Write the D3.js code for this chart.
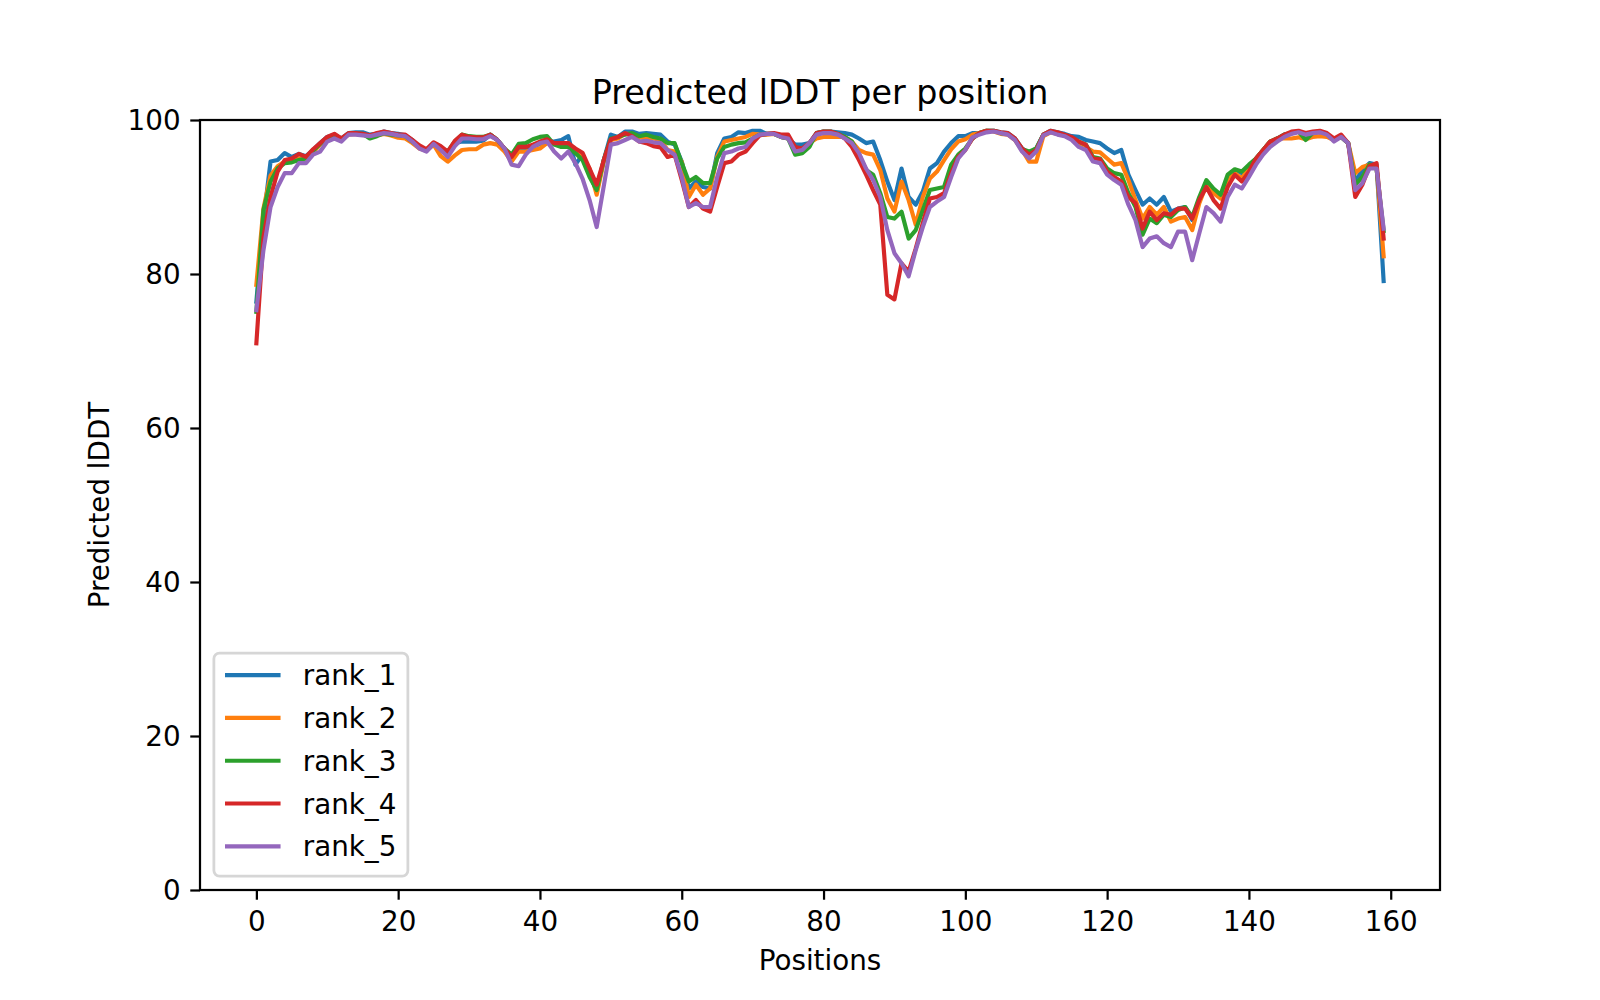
<!DOCTYPE html>
<html>
<head>
<meta charset="utf-8">
<script src="https://cdn.jsdelivr.net/npm/d3@7"></script>
<style>
  html, body { margin: 0; padding: 0; background: #fff; }
  #chart { width: 1600px; height: 1000px; }
  text { font-family: "DejaVu Sans", sans-serif; fill: #000; }
</style>
</head>
<body>
<div id="chart"></div>
<script>
// predicted lDDT per residue for the five ranked models
const rank1 = [76.4,87.0,94.6,94.8,95.7,95.2,95.6,95.3,96.1,97.0,97.8,98.1,97.6,98.3,98.4,98.4,98.1,98.2,98.5,98.3,
  98.2,98.0,97.4,96.5,96.1,97.0,96.5,95.4,97.0,97.2,97.2,97.2,97.3,98.1,97.4,96.3,95.0,96.3,96.3,96.5,
  96.9,97.2,97.2,97.4,97.9,94.2,95.5,93.1,90.7,94.8,98.1,97.8,98.5,98.5,98.2,98.3,98.2,98.1,97.2,96.8,
  94.6,91.1,92.0,91.3,91.1,95.7,97.6,97.8,98.4,98.3,98.6,98.6,98.2,98.2,97.8,97.6,96.8,96.8,97.0,98.3,
  98.5,98.5,98.4,98.3,98.1,97.6,97.0,97.2,94.8,92.0,89.6,93.7,90.0,89.0,90.7,93.7,94.4,95.9,97.0,97.9,
  97.9,98.3,98.3,98.6,98.6,98.4,98.3,97.6,96.3,95.7,96.3,98.1,98.6,98.4,98.2,97.9,97.8,97.4,97.2,97.0,
  96.3,95.7,96.1,92.9,90.9,89.0,89.8,89.0,90.0,88.1,88.5,88.7,87.0,89.6,92.0,90.9,90.0,92.6,93.5,93.1,
  93.9,95.0,96.1,97.2,97.6,98.1,98.3,98.5,98.1,98.3,98.5,98.2,97.4,97.8,97.0,92.0,93.5,94.4,94.2,79.1];
const rank2 = [78.6,88.5,92.8,94.0,94.6,94.8,95.0,95.0,95.8,96.8,97.6,98.0,97.5,98.1,98.2,98.1,97.8,98.0,98.2,98.0,
  97.7,97.6,97.0,96.3,96.0,96.8,95.3,94.6,95.4,96.1,96.2,96.2,96.8,97.0,96.8,95.9,94.6,95.9,95.9,96.1,
  96.3,97.0,97.0,97.0,97.0,95.9,95.2,93.7,90.3,94.6,97.4,97.6,98.2,98.2,97.8,97.6,97.6,97.4,96.1,95.9,
  94.6,90.0,91.6,90.3,91.1,95.2,97.2,97.4,97.6,97.8,98.2,98.1,98.1,98.2,97.8,97.6,96.1,96.1,97.0,97.6,
  97.8,97.8,97.8,97.8,97.2,96.1,95.7,95.5,93.5,89.8,88.1,92.0,89.6,86.4,90.0,92.4,93.3,94.8,96.2,97.2,
  97.5,98.1,98.3,98.6,98.5,98.2,98.1,97.4,96.1,94.6,94.6,97.9,98.4,98.2,98.0,97.6,96.9,96.5,95.9,95.8,
  95.0,94.2,94.4,92.2,89.6,87.2,88.7,87.7,88.7,86.8,87.2,87.4,85.7,89.2,91.6,90.5,89.8,92.4,93.1,92.4,
  93.9,95.0,96.1,97.2,97.6,97.6,97.6,97.75,97.5,97.8,97.9,97.8,97.4,97.8,97.0,93.1,93.9,94.2,93.9,82.3];
const rank3 = [75.1,88.3,92.0,93.7,94.4,94.5,94.8,95.0,96.0,96.9,97.6,98.0,97.4,98.2,98.2,98.2,97.6,97.9,98.3,98.1,
  98.0,97.9,97.2,96.5,96.1,97.0,96.4,95.9,97.2,98.1,97.9,97.8,97.8,98.1,97.4,96.3,95.5,96.9,97.0,97.5,
  97.8,97.9,96.8,96.5,96.5,95.7,94.8,92.6,90.9,94.8,97.6,97.8,98.1,98.3,97.9,98.1,97.8,97.6,97.0,97.0,
  94.4,92.0,92.6,91.8,91.8,95.0,96.5,96.8,97.0,97.1,97.6,98.1,98.2,98.2,97.8,97.6,95.5,95.7,96.5,98.3,
  98.5,98.5,98.2,97.8,97.2,95.5,93.5,92.9,90.5,87.4,87.2,88.1,84.6,85.7,88.3,90.9,91.1,91.3,94.2,95.5,
  96.3,97.6,98.3,98.6,98.6,98.3,98.2,97.5,96.2,95.9,96.3,98.1,98.5,98.2,98.0,97.6,97.2,96.8,95.2,95.0,
  93.7,93.1,92.9,90.5,88.7,85.1,87.2,86.6,87.7,87.4,88.3,88.7,87.4,90.0,92.2,91.1,90.3,92.9,93.6,93.3,
  94.2,95.0,96.1,97.2,97.6,98.1,98.3,98.5,97.4,98.3,98.5,98.2,97.4,97.8,97.0,91.6,92.6,94.2,93.7,85.6];
const rank4 = [71.0,84.8,90.0,93.3,94.8,95.0,95.6,95.2,96.2,97.0,97.8,98.2,97.6,98.3,98.3,98.2,98.0,98.3,98.5,98.3,
  98.1,98.1,97.4,96.7,96.2,97.1,96.6,95.9,97.3,98.1,97.8,97.75,97.75,98.1,97.4,96.3,95.2,96.5,96.5,96.8,
  97.2,97.5,97.0,97.0,97.0,96.3,95.75,93.7,91.6,94.8,97.5,97.8,98.3,97.9,97.2,97.0,96.6,96.45,95.2,95.5,
  92.2,88.7,89.6,88.5,88.1,91.3,94.4,94.6,95.5,95.9,97.0,98.0,98.2,98.3,98.1,98.1,96.5,96.3,97.0,98.3,
  98.5,98.5,98.2,97.6,96.5,94.8,92.9,90.9,89.0,77.3,76.7,81.4,80.3,83.3,86.6,89.8,90.0,90.5,93.1,95.2,
  96.1,97.6,98.3,98.6,98.6,98.4,98.3,97.6,96.3,95.5,96.1,98.1,98.6,98.4,98.1,97.8,97.2,96.8,95.0,94.9,
  93.3,92.6,92.0,90.0,89.2,85.9,88.1,87.0,87.9,87.7,88.5,88.5,87.2,89.6,91.3,89.6,88.5,91.3,92.9,92.0,
  93.3,95.0,96.1,97.2,97.6,98.1,98.5,98.6,98.3,98.5,98.6,98.3,97.6,98.1,97.0,90.0,91.6,94.0,94.4,84.6];
const rank5 = [75.3,83.1,88.7,91.3,93.1,93.1,94.4,94.4,95.5,95.9,97.2,97.6,97.2,98.1,98.1,98.0,97.9,98.1,98.3,98.2,
  98.0,97.9,97.2,96.3,95.9,96.9,96.1,95.2,96.6,97.6,97.6,97.5,97.5,97.9,97.4,96.3,94.2,94.0,95.5,96.5,
  97.0,97.2,95.9,95.0,95.9,94.4,92.4,89.6,86.1,91.4,96.8,97.0,97.4,97.8,97.2,97.3,97.1,97.0,96.1,95.5,
  92.6,88.7,89.2,88.7,88.7,92.6,95.7,95.9,96.3,96.5,97.6,98.1,98.2,98.2,97.8,97.6,95.9,96.1,97.0,98.1,
  98.3,98.3,98.1,97.6,97.0,95.7,93.7,92.2,90.0,85.7,82.7,81.4,79.7,83.1,86.1,88.7,89.4,90.0,92.6,95.0,
  96.1,97.75,98.1,98.4,98.5,98.3,98.1,97.4,95.9,95.0,95.9,98.0,98.4,98.1,97.9,97.4,96.5,96.1,94.6,94.4,
  92.9,92.2,91.6,89.0,87.0,83.5,84.6,84.9,84.0,83.5,85.5,85.5,81.8,85.3,88.7,87.9,86.8,90.0,91.6,91.1,
  92.6,94.2,95.5,96.5,97.2,97.8,98.2,98.4,98.1,98.3,98.4,98.1,97.2,97.8,97.0,90.9,91.8,93.7,93.7,85.9];

const seriesNames = ['rank_1', 'rank_2', 'rank_3', 'rank_4', 'rank_5'];
const seriesColors = ['#1f77b4', '#ff7f0e', '#2ca02c', '#d62728', '#9467bd'];
const xTicks = [0, 20, 40, 60, 80, 100, 120, 140, 160];
const yTicks = [0, 20, 40, 60, 80, 100];

(function () {
  const W = 1600, H = 1000;
  // matplotlib default subplot box at 200 dpi
  const margin = { top: 120, right: 160, bottom: 110, left: 200 };
  const width = W - margin.left - margin.right;
  const height = H - margin.top - margin.bottom;
  const pt = 200 / 72;
  const fs = 10 * pt;

  const series = [rank1, rank2, rank3, rank4, rank5].map((vals, k) => ({
    name: seriesNames[k], color: seriesColors[k], values: vals
  }));

  const n = rank1.length;
  const pad = (n - 1) * 0.05;
  const x = d3.scaleLinear().domain([-pad, n - 1 + pad]).range([0, width]);
  const y = d3.scaleLinear().domain([0, 100]).range([height, 0]);

  const svg = d3.select('#chart').append('svg')
    .attr('width', W).attr('height', H);

  const g = svg.append('g').attr('transform', `translate(${margin.left},${margin.top})`);

  g.append('clipPath').attr('id', 'clip')
    .append('rect').attr('width', width).attr('height', height);

  const line = d3.line().x((d, i) => x(i)).y(d => y(d));

  g.append('g').attr('clip-path', 'url(#clip)')
    .selectAll('path').data(series).join('path')
    .attr('d', d => line(d.values))
    .attr('fill', 'none')
    .attr('stroke', d => d.color)
    .attr('stroke-width', 1.5 * pt)
    .attr('stroke-linejoin', 'round')
    .attr('stroke-linecap', 'square');

  // axes: ticks out, 3.5pt long, label pad 3.5pt
  const tickLen = 3.5 * pt;
  const xAxisG = g.append('g').attr('transform', `translate(0,${height})`)
    .call(d3.axisBottom(x).tickValues(xTicks).tickSize(tickLen).tickPadding(3.5 * pt).tickFormat(d3.format('d')));
  const yAxisG = g.append('g')
    .call(d3.axisLeft(y).tickValues(yTicks).tickSize(tickLen).tickPadding(3.5 * pt).tickFormat(d3.format('d')));

  [xAxisG, yAxisG].forEach(axis => {
    axis.select('.domain').remove();
    axis.selectAll('line').attr('stroke', '#000').attr('stroke-width', 0.8 * pt);
    axis.selectAll('text').attr('font-size', fs + 'px').attr('fill', '#000')
      .attr('font-family', 'DejaVu Sans, sans-serif');
  });
  yAxisG.selectAll('text').attr('dy', '0.35em');
  xAxisG.selectAll('text').attr('dy', '0.76em');

  // frame
  g.append('rect').attr('width', width).attr('height', height)
    .attr('fill', 'none').attr('stroke', '#000').attr('stroke-width', 0.8 * pt);

  // title and axis labels
  g.append('text').attr('x', width / 2).attr('y', -16)
    .attr('text-anchor', 'middle').attr('font-size', 12 * pt + 'px')
    .text('Predicted lDDT per position');

  g.append('text').attr('x', width / 2).attr('y', height + 80)
    .attr('text-anchor', 'middle').attr('font-size', fs + 'px')
    .text('Positions');

  g.append('text')
    .attr('transform', `translate(${-91},${height / 2}) rotate(-90)`)
    .attr('text-anchor', 'middle').attr('font-size', fs + 'px')
    .text('Predicted lDDT');

  // legend, lower left
  const lg = g.append('g');
  const boxX = 0.5 * fs, boxW = 194, boxH = 223;
  const boxY = height - 0.5 * fs - boxH;
  lg.append('rect').attr('x', boxX).attr('y', boxY).attr('width', boxW).attr('height', boxH)
    .attr('rx', 0.2 * fs).attr('fill', 'rgba(255,255,255,0.8)')
    .attr('stroke', '#d6d6d6').attr('stroke-width', 1 * pt);

  const rowH = 42.8;
  const entries = lg.selectAll('g.entry').data(series).join('g')
    .attr('class', 'entry')
    .attr('transform', (d, i) => `translate(${boxX + 0.4 * fs},${boxY + 22 + i * rowH})`);
  entries.append('line').attr('x1', 0).attr('x2', 2 * fs)
    .attr('stroke', d => d.color).attr('stroke-width', 1.5 * pt).attr('stroke-linecap', 'butt');
  entries.append('text').attr('x', 2.8 * fs).attr('dy', '0.36em')
    .attr('font-size', fs + 'px').text(d => d.name);
})();
</script>
</body>
</html>
